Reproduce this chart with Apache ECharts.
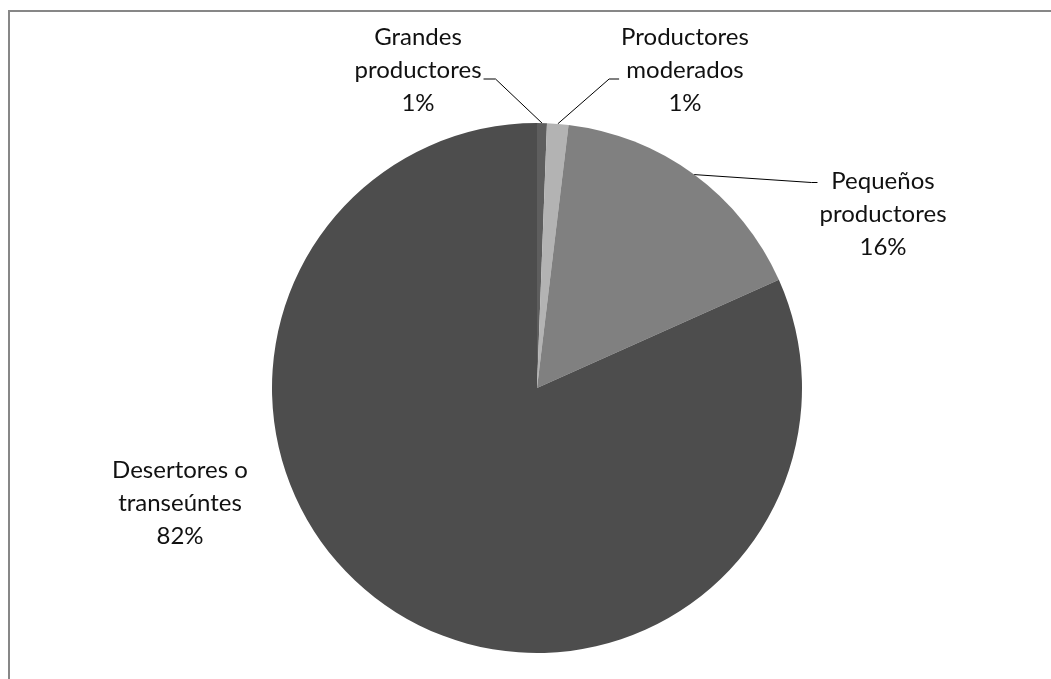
<!DOCTYPE html>
<html>
<head>
<meta charset="utf-8">
<script src="https://cdn.jsdelivr.net/npm/echarts@6/dist/echarts.min.js"></script>
<style>
html,body{margin:0;padding:0;background:#fff;}
#frame{position:absolute;left:8px;top:10px;width:1100px;height:700px;border-left:2px solid #878787;border-top:2px solid #878787;}
#c{position:absolute;left:0;top:0;width:1051px;height:679px;}
</style>
</head>
<body>
<div id="frame"></div>
<div id="c"></div>
<script>
const categories = ['Grandes\nproductores', 'Productores\nmoderados', 'Pequeños\nproductores', 'Desertores o\ntranseúntes'];
const values = [0.6, 1.3, 16.4, 81.7];
const percentLabels = ['1%', '1%', '16%', '82%'];
const colors = ['#5e5e5e', '#b3b3b3', '#808080', '#4d4d4d'];
const labelCenters = [[418, 70], [685, 70], [883, 214], [180, 503]];

const chart = echarts.init(document.getElementById('c'), null, {renderer: 'canvas'});
chart.setOption({
  animation: false,
  series: [{
    type: 'pie',
    center: [537, 388],
    radius: 265,
    startAngle: 90,
    clockwise: true,
    silent: true,
    data: categories.map((n, i) => ({
      name: n,
      value: values[i],
      itemStyle: {color: colors[i]},
      label: {formatter: n + '\n' + percentLabels[i]},
      labelLine: {show: i !== 3}
    })),
    itemStyle: {borderWidth: 0},
    label: {
      show: true,
      position: 'outside',
      fontFamily: 'Lato, "Open Sans", sans-serif',
      fontSize: 24,
      lineHeight: 33,
      color: '#111',
      align: 'center'
    },
    labelLine: {
      show: true,
      length: 10,
      length2: 10,
      lineStyle: {color: '#000', width: 1}
    },
    labelLayout: function (params) {
      const i = params.dataIndex;
      const c = labelCenters[i];
      const w = params.labelRect.width, h = params.labelRect.height;
      const left = c[0] - w / 2, right = c[0] + w / 2, top = c[1] - h / 2;
      const res = {x: c[0], y: c[1], align: 'center', verticalAlign: 'middle'};
      const start = params.labelLinePoints ? params.labelLinePoints[0] : null;
      if (start) {
        if (i === 0) {
          const y = c[1] + 9;
          res.labelLinePoints = [start, [right + 14, y], [right + 2, y]];
        } else if (i === 1) {
          const y = c[1] + 9;
          res.labelLinePoints = [start, [left - 12, y], [left - 2, y]];
        } else if (i === 2) {
          const y = top + 18;
          res.labelLinePoints = [start, [left - 8, y], [left - 2, y]];
        }
      }
      return res;
    }
  }]
});
</script>
</body>
</html>
